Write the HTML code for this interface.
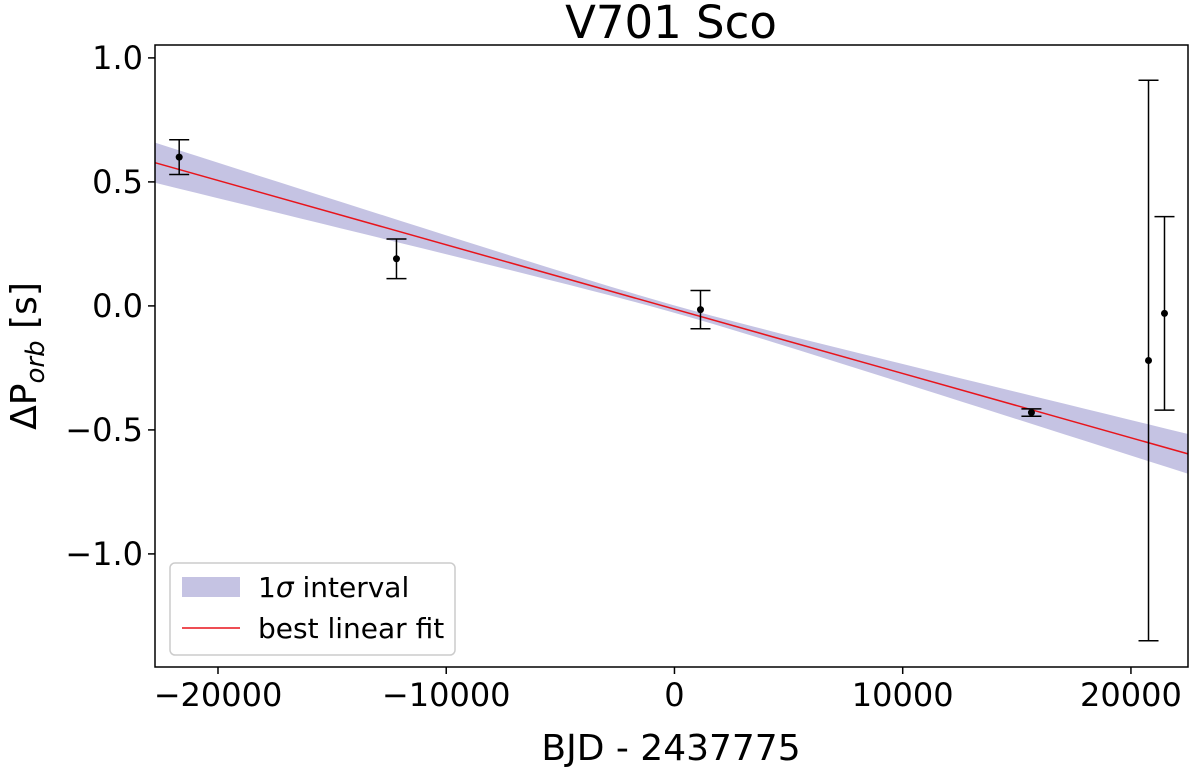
<!DOCTYPE html>
<html><head><meta charset="utf-8"><style>
body{margin:0;background:#fff;}
svg text{font-family:"DejaVu Sans","Liberation Sans",sans-serif;fill:#000;}
</style></head><body>
<svg id="chart" width="1200" height="771" xmlns="http://www.w3.org/2000/svg">
<text x="671" y="38" font-size="45" text-anchor="middle">V701 Sco</text>
<g id="plot"></g>
<text x="671" y="760" font-size="36" text-anchor="middle">BJD - 2437775</text>
<text transform="translate(36,356) rotate(-90)" font-size="36" text-anchor="middle">ΔP<tspan font-style="italic" font-size="26" dy="8">orb</tspan><tspan dy="-8"> [s]</tspan></text>
<g>
<rect x="170" y="563" width="285" height="92" rx="5" fill="#fff" stroke="#ccc" stroke-width="1.5"/>
<rect x="182" y="577" width="58" height="20" fill="#c5c3e3"/>
<text x="258" y="597" font-size="28">1<tspan font-style="italic">σ</tspan> interval</text>
<line x1="182" y1="628" x2="240" y2="628" stroke="#e8141b" stroke-width="1.5"/>
<text x="258" y="638" font-size="28">best linear fit</text>
</g>
</svg>
<script>
const xVals=[-21700,-12180,1140,15640,20770,21470];
const yVals=[0.60,0.19,-0.015,-0.43,-0.22,-0.03];
const yErr=[0.07,0.08,0.077,0.015,1.13,0.39];
const fitSlope=-2.594e-5, fitIntercept=-0.013;
const bandConst=0.015, bandSlopeErr=3.5e-6;
const xTicks=[-20000,-10000,0,10000,20000];
const yTicks=[1.0,0.5,0.0,-0.5,-1.0];
const yTickLabels=["1.0","0.5","0.0","−0.5","−1.0"];
const L=155,R=1188,T=45,B=667,xMin=-22760,xMax=22500,yMin=-1.456,yMax=1.052;
const sx=v=>L+(v-xMin)/(xMax-xMin)*(R-L);
const sy=v=>B-(v-yMin)/(yMax-yMin)*(B-T);
const g=document.getElementById('plot');
const NS="http://www.w3.org/2000/svg";
function mk(t,a){const e=document.createElementNS(NS,t);for(const k in a)e.setAttribute(k,a[k]);g.appendChild(e);return e;}
let up=[],dn=[];
for(let i=0;i<=50;i++){const x=xMin+(xMax-xMin)*i/50;const y=fitIntercept+fitSlope*x;const h=Math.sqrt(bandConst*bandConst+(bandSlopeErr*x)**2);up.push(sx(x)+','+sy(y+h));dn.unshift(sx(x)+','+sy(y-h));}
const band=mk('polygon',{points:up.concat(dn).join(' '),fill:'#c5c3e3'});


const fl=mk('line',{x1:sx(xMin),y1:sy(fitIntercept+fitSlope*xMin),x2:sx(xMax),y2:sy(fitIntercept+fitSlope*xMax),stroke:'#e8141b','stroke-width':1.5});


xVals.forEach((x,i)=>{
 const px=sx(x),t=sy(yVals[i]+yErr[i]),b=sy(yVals[i]-yErr[i]);
 const eg=mk('g',{});
 
 
 [[px,t,px,b],[px-10,t,px+10,t],[px-10,b,px+10,b]].forEach(c=>{const l=document.createElementNS(NS,'line');l.setAttribute('x1',c[0]);l.setAttribute('y1',c[1]);l.setAttribute('x2',c[2]);l.setAttribute('y2',c[3]);l.setAttribute('stroke','#000');l.setAttribute('stroke-width',1.5);eg.appendChild(l);});
 const c=document.createElementNS(NS,'circle');c.setAttribute('cx',px);c.setAttribute('cy',sy(yVals[i]));c.setAttribute('r',3.5);eg.appendChild(c);
});
const fr=mk('rect',{x:L,y:T,width:R-L,height:B-T,fill:'none',stroke:'#000','stroke-width':1.5});


xTicks.forEach(v=>{const p=sx(v);mk('line',{x1:p,y1:B,x2:p,y2:B+7,stroke:'#000','stroke-width':1.5});
 const t=mk('text',{x:p,y:B+39,'font-size':32,'text-anchor':'middle'});t.textContent=v<0?'−'+(-v):String(v);
 
 });
yTicks.forEach((v,i)=>{const p=sy(v);mk('line',{x1:L-7,y1:p,x2:L,y2:p,stroke:'#000','stroke-width':1.5});
 const t=mk('text',{x:L-12,y:p+11,'font-size':32,'text-anchor':'end'});t.textContent=yTickLabels[i];
 
 });
</script>
</body></html>
